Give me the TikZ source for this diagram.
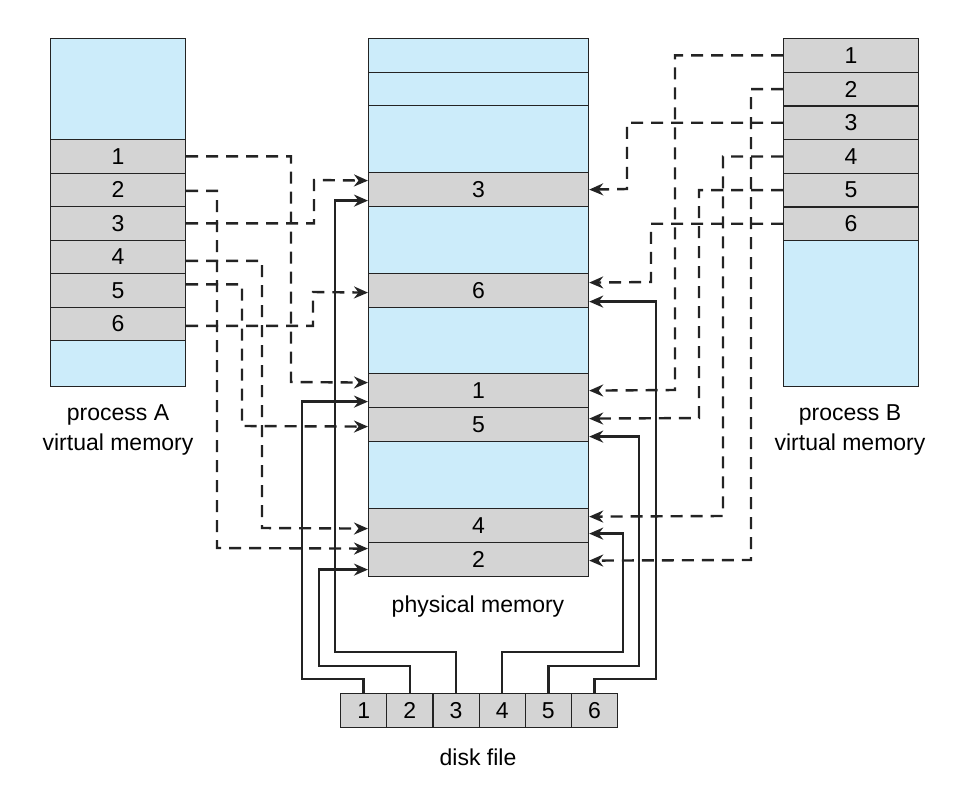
\documentclass[tikz,border=0pt]{standalone}
\usepackage{fontspec}
\setmainfont{Liberation Sans}
\usetikzlibrary{arrows.meta,positioning}
\definecolor{vmblue}{RGB}{204,236,250}
\definecolor{vmgray}{RGB}{212,212,212}
\definecolor{vmline}{RGB}{35,35,35}
\tikzset{
  % boxes
	vmbox/.style   ={draw=vmline,line width=1.2pt,inner sep=0pt,anchor=north west,font=\fontsize{23}{27}\selectfont},
	vmpage/.style  ={vmbox,fill=vmgray},
	vmfree/.style  ={vmbox,fill=vmblue},
	vmlabel/.style ={align=center,font=\fontsize{23}{30}\selectfont},
  % connectors
	vmdash/.style  ={-{Stealth[length=14pt,width=12pt]},line width=2.4pt,vmline,dash pattern=on 12pt off 8pt},
	vmsolid/.style ={-{Stealth[length=14pt,width=12pt]},line width=2.4pt,vmline}
}
\begin{document}
\begin{tikzpicture}[x=1pt,y=-1pt]
	\useasboundingbox (0,0) rectangle (970,807);
	% process A
	\node[vmfree,minimum width=135pt,minimum height=101pt] at (50,38) {};
	\foreach \i in {1,...,6}
		\node[vmpage,minimum width=135pt,minimum height=33.5pt] (A\i) at (50,{139+(\i-1)*33.5}) {\i};
	\node[vmfree,minimum width=135pt,minimum height=46pt] at (50,340) {};
	\node[vmlabel] (labA) at (118,430) {process A\\virtual memory};
	% process B
	\foreach \i in {1,...,6}
		\node[vmpage,minimum width=135pt,minimum height=33.67pt] (B\i) at (783,{38+(\i-1)*33.67}) {\i};
	\node[vmfree,minimum width=135pt,minimum height=146pt] at (783,240) {};
	\node[vmlabel] (labB) at (850,430) {process B\\virtual memory};
	% physical memory
	\node[vmfree,minimum width=220pt,minimum height=34pt] at (368,38) {};
	\node[vmfree,minimum width=220pt,minimum height=33pt] at (368,72) {};
	\node[vmfree,minimum width=220pt,minimum height=67pt] at (368,105) {};
	\node[vmpage,minimum width=220pt,minimum height=34pt] (P3) at (368,172) {3};
	\node[vmfree,minimum width=220pt,minimum height=67pt] at (368,206) {};
	\node[vmpage,minimum width=220pt,minimum height=34pt] (P6) at (368,273) {6};
	\node[vmfree,minimum width=220pt,minimum height=66pt] at (368,307) {};
	\node[vmpage,minimum width=220pt,minimum height=34pt] (P1) at (368,373) {1};
	\node[vmpage,minimum width=220pt,minimum height=34pt] (P5) at (368,407) {5};
	\node[vmfree,minimum width=220pt,minimum height=67pt] at (368,441) {};
	\node[vmpage,minimum width=220pt,minimum height=34pt] (P4) at (368,508) {4};
	\node[vmpage,minimum width=220pt,minimum height=34pt] (P2) at (368,542) {2};
	\node[vmlabel] (labP) at (478,607) {physical memory};
	% disk file
	\foreach \i in {1,...,6}
		\node[vmpage,minimum width=46.17pt,minimum height=34pt] (D\i) at ({340+(\i-1)*46.17},693) {\i};
	\node[vmlabel] (labD) at (478,757) {disk file};
	% process A -> physical
	\draw[vmdash] (A1.east) -| (291,382) -- ([yshift=8pt]P1.west);
	\draw[vmdash] ([yshift=-1pt]A2.east) -| (217,548) -- ([yshift=11pt]P2.west);
	\draw[vmdash] (A3.east) -| (314,180) -- ([yshift=9pt]P3.west);
	\draw[vmdash] ([yshift=-4pt]A4.east) -| (262,528) -- ([yshift=-3pt]P4.west);
	\draw[vmdash] ([yshift=6pt]A5.east) -| (242,426) -- ([yshift=-2pt]P5.west);
	\draw[vmdash] ([yshift=-2pt]A6.east) -| (313,292) -- ([yshift=-2pt]P6.west);
	% process B -> physical
	\draw[vmdash] (B1.west) -| (675,390) -- (P1.east);
	\draw[vmdash] (B2.west) -| (751,560) -- ([yshift=-1pt]P2.east);
	\draw[vmdash] (B3.west) -| (627,189) -- (P3.east);
	\draw[vmdash] (B4.west) -| (723,516) -- ([yshift=9pt]P4.east);
	\draw[vmdash] (B5.west) -| (699,418) -- ([yshift=6pt]P5.east);
	\draw[vmdash] (B6.west) -| (651,282) -- ([yshift=8pt]P6.east);
	% disk file -> physical
	\draw[vmsolid] (D1.north) |- (302,679) |- ([yshift=-11pt]P1.west);
	\draw[vmsolid] (D2.north) |- (319,666) |- ([yshift=-10pt]P2.west);
	\draw[vmsolid] (D3.north) |- (335,652) |- ([yshift=-11pt]P3.west);
	\draw[vmsolid] (D4.north) |- (623,652) |- ([yshift=-8pt]P4.east);
	\draw[vmsolid] (D5.north) |- (639,666) |- ([yshift=-12pt]P5.east);
	\draw[vmsolid] (D6.north) |- (656,679) |- ([yshift=-11pt]P6.east);
\end{tikzpicture}
\end{document}
